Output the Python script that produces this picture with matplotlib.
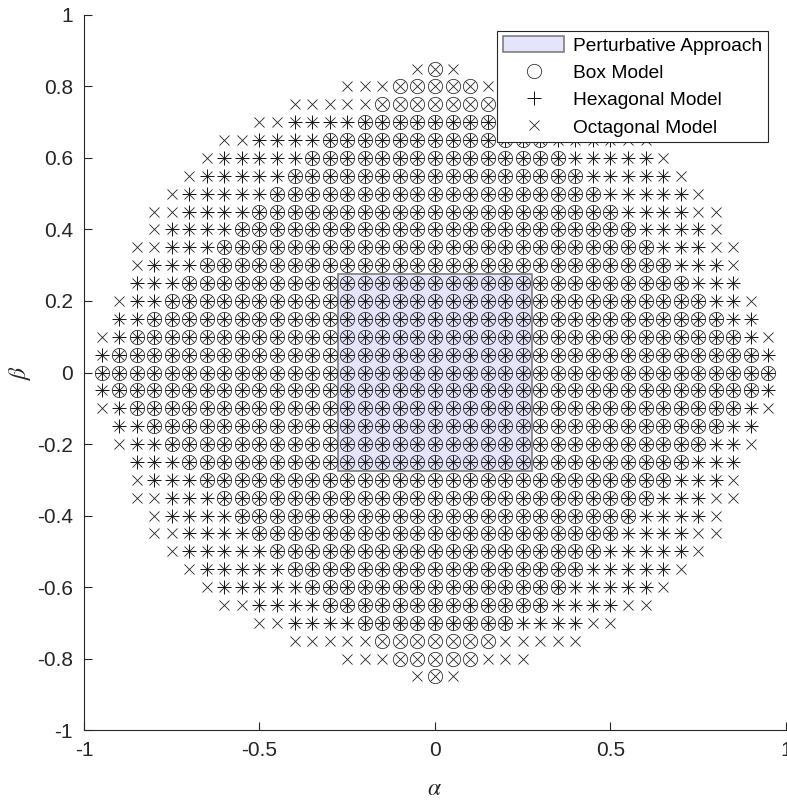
import numpy as np
import matplotlib
matplotlib.use("Agg")
import matplotlib.pyplot as plt
from matplotlib.patches import Rectangle

plt.rcParams['font.family'] = ['Liberation Sans', 'DejaVu Sans']
plt.rcParams['mathtext.fontset'] = 'stix'
plt.rcParams['axes.unicode_minus'] = False

# Grid step in alpha and beta
step = 0.05
# Rows of beta (>= 0); the pattern is mirrored for negative beta and alpha
beta_levels = [0.00, 0.05, 0.10, 0.15, 0.20, 0.25, 0.30, 0.35, 0.40,
               0.45, 0.50, 0.55, 0.60, 0.65, 0.70, 0.75, 0.80, 0.85]
# Largest |alpha| for each beta row, per model (nan = no points in that row)
box_halfwidth = [0.95, 0.90, 0.85, 0.80, 0.75, 0.70, 0.65, 0.60, 0.55,
                 0.50, 0.45, 0.40, 0.35, 0.30, 0.20, 0.15, 0.10, 0.00]
hex_halfwidth = [0.95, 0.95, 0.90, 0.90, 0.85, 0.85, 0.80, 0.75, 0.75,
                 0.70, 0.70, 0.65, 0.60, 0.50, 0.40, np.nan, np.nan, np.nan]
oct_halfwidth = [0.95, 0.95, 0.95, 0.90, 0.90, 0.85, 0.85, 0.85, 0.80,
                 0.80, 0.75, 0.70, 0.65, 0.60, 0.50, 0.40, 0.25, 0.05]
# Perturbative approach region: |alpha|, |beta| <= this
pert_half = 0.275

xticks = [-1, -0.5, 0, 0.5, 1]
xticklabels = ['-1', '-0.5', '0', '0.5', '1']
yticks = [-1, -0.8, -0.6, -0.4, -0.2, 0, 0.2, 0.4, 0.6, 0.8, 1]
yticklabels = ['-1', '-0.8', '-0.6', '-0.4', '-0.2', '0', '0.2', '0.4', '0.6', '0.8', '1']


def build_points(halfwidths):
    xs, ys = [], []
    for b, hw in zip(beta_levels, halfwidths):
        if np.isnan(hw):
            continue
        kb = int(round(b / step))
        ka = int(round(hw / step))
        for sb in ([kb, -kb] if kb != 0 else [0]):
            for ia in range(-ka, ka + 1):
                xs.append(ia * step)
                ys.append(sb * step)
    return np.array(xs), np.array(ys)


fig = plt.figure(figsize=(7.87, 8.01), dpi=100)
ax = fig.add_axes([0.1067, 0.0886, 0.892, 0.8927])

rect = Rectangle((-pert_half, -pert_half), 2 * pert_half, 2 * pert_half,
                 facecolor='#e4e4fa', edgecolor='#7f7f7f', linewidth=1.2,
                 zorder=1, label='Perturbative Approach')
ax.add_patch(rect)

bx, by = build_points(box_halfwidth)
hx, hy = build_points(hex_halfwidth)
ox, oy = build_points(oct_halfwidth)

ax.plot(bx, by, linestyle='none', marker='o', markersize=10.3, markerfacecolor='none',
        markeredgecolor='#333333', markeredgewidth=0.6, label='Box Model', zorder=3)
ax.plot(hx, hy, linestyle='none', marker='+', markersize=10,
        markeredgecolor='#111111', markeredgewidth=0.7, label='Hexagonal Model', zorder=3)
ax.plot(ox, oy, linestyle='none', marker='x', markersize=7.5,
        markeredgecolor='#222222', markeredgewidth=0.6, label='Octagonal Model', zorder=3)

ax.set_xlim(-1, 1)
ax.set_ylim(-1, 1)
ax.set_xticks(xticks)
ax.set_xticklabels(xticklabels)
ax.set_yticks(yticks)
ax.set_yticklabels(yticklabels)
ax.tick_params(direction='in', length=6, width=0.8, labelsize=15, colors='#262626',
               pad=8)
ax.spines['top'].set_visible(False)
ax.spines['right'].set_visible(False)
for s in ['left', 'bottom']:
    ax.spines[s].set_color('#262626')
    ax.spines[s].set_linewidth(0.8)

ax.set_xlabel(r'$\alpha$', fontsize=17, labelpad=13, color='#262626')
ax.set_ylabel(r'$\beta$', fontsize=17, labelpad=3, color='#262626')

leg = ax.legend(loc='upper right', bbox_to_anchor=(0.974, 0.978), fontsize=13.8,
                frameon=True, fancybox=False, edgecolor='#262626', framealpha=1,
                handlelength=3.2, handleheight=0.9, handletextpad=0.45, borderpad=0.3,
                labelspacing=0.45, borderaxespad=0)
leg.get_frame().set_linewidth(0.8)

fig.savefig('out.png', dpi=100)
